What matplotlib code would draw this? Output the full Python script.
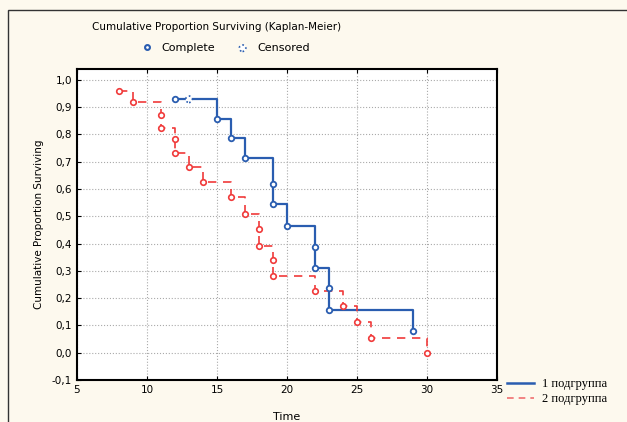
import matplotlib.pyplot as plt
from matplotlib.lines import Line2D
from matplotlib.patches import Rectangle
from matplotlib.ticker import FuncFormatter

# group 1: event times and survival after each event
g1_t = [12, 15, 16, 17, 19, 20, 22, 23, 29]
g1_s = [0.929, 0.857, 0.786, 0.714, 0.545, 0.464, 0.311, 0.158, 0.080]
# group 1 markers (complete / censored)
g1_pts_t = [12, 15, 16, 17, 19, 19, 20, 22, 22, 23, 23, 29]
g1_pts_s = [0.929, 0.857, 0.786, 0.714, 0.620, 0.545, 0.464, 0.387, 0.311, 0.236, 0.158, 0.080]
g1_cens_t = [13]
g1_cens_s = [0.929]

# group 2
g2_t = [8, 9, 11, 12, 13, 14, 16, 17, 18, 19, 22, 24, 25, 26, 30]
g2_s = [0.961, 0.918, 0.822, 0.733, 0.679, 0.626, 0.569, 0.510, 0.393, 0.283,
        0.228, 0.170, 0.114, 0.054, 0.0]
g2_pts_t = [8, 9, 11, 11, 12, 12, 13, 14, 16, 17, 18, 18, 19, 19, 22, 24, 25, 26, 30]
g2_pts_s = [0.961, 0.918, 0.871, 0.822, 0.782, 0.733, 0.679, 0.626, 0.569, 0.510,
            0.455, 0.393, 0.341, 0.283, 0.228, 0.170, 0.114, 0.054, 0.0]

blue = '#2a5db0'
red = '#f03a3a'
bg = '#fdf9ee'


def steps(t, s):
    xs, ys = [t[0]], [s[0]]
    for i in range(1, len(t)):
        xs += [t[i], t[i]]
        ys += [s[i - 1], s[i]]
    return xs, ys


fig = plt.figure(figsize=(6.27, 4.22), dpi=100, facecolor=bg)
ax = fig.add_axes([0.1228, 0.0995, 0.67, 0.737])
ax.set_facecolor('white')

x1, y1 = steps(g1_t, g1_s)
ax.plot(x1, y1, color=blue, lw=1.6, zorder=3)
ax.plot(g1_pts_t, g1_pts_s, 'o', ms=4, mfc='white', mec=blue, mew=1.3, zorder=4)
cens = ax.scatter(g1_cens_t, g1_cens_s, s=22, facecolors='white', edgecolors=blue,
                  linewidths=1.2, linestyles=':', zorder=4)

x2, y2 = steps(g2_t, g2_s)
ax.plot(x2, y2, color=red, lw=1.2, ls=(0, (5, 4)), zorder=3)
ax.plot(g2_pts_t, g2_pts_s, 'o', ms=4, mfc='white', mec=red, mew=1.2, zorder=4)

ax.set_xlim(5, 35)
ax.set_ylim(-0.1, 1.04)
ax.set_xticks(range(5, 36, 5))
ax.set_yticks([i / 10 for i in range(-1, 11)])
ax.yaxis.set_major_formatter(FuncFormatter(lambda v, p: f'{v:.1f}'.replace('.', ',')))
ax.grid(True, color='#aaaaaa', ls=':', lw=0.8)
ax.tick_params(labelsize=7.5, top=True, direction='in', length=3)
for sp in ax.spines.values():
    sp.set_linewidth(1.5)

ax.set_xlabel('Time', fontsize=8, labelpad=12)
ax.set_ylabel('Cumulative Proportion Surviving', fontsize=7.5, labelpad=6)

fig.text(0.345, 0.935, 'Cumulative Proportion Surviving (Kaplan-Meier)', fontsize=7.5,
         ha='center', va='center')

top_handles = [
    Line2D([], [], marker='o', ms=3.5, mfc='white', mec=blue, mew=1.5, ls='none'),
    cens,
]
fig.legend(top_handles, ['Complete', 'Censored'], loc='center', ncol=2,
           bbox_to_anchor=(0.355, 0.886), frameon=False, fontsize=8,
           handletextpad=0.3, columnspacing=1.5, scatterpoints=1)

grp_handles = [
    Line2D([], [], color=blue, lw=1.8),
    Line2D([], [], color='#f07070', lw=1.2, ls=(0, (4, 3))),
]
fig.legend(grp_handles, ['1 подгруппа', '2 подгруппа'], loc='upper left',
           bbox_to_anchor=(0.8, 0.115), frameon=False,
           prop={'family': 'Liberation Serif', 'size': 9},
           handlelength=2.2, handletextpad=0.6, labelspacing=0.2, borderaxespad=0)

fig.add_artist(Rectangle((0.0128, -0.05), 1.1, 0.976 + 0.05, transform=fig.transFigure,
                         fill=False, ec='#333333', lw=1.0))

fig.savefig('out.png', dpi=100, facecolor=bg)
